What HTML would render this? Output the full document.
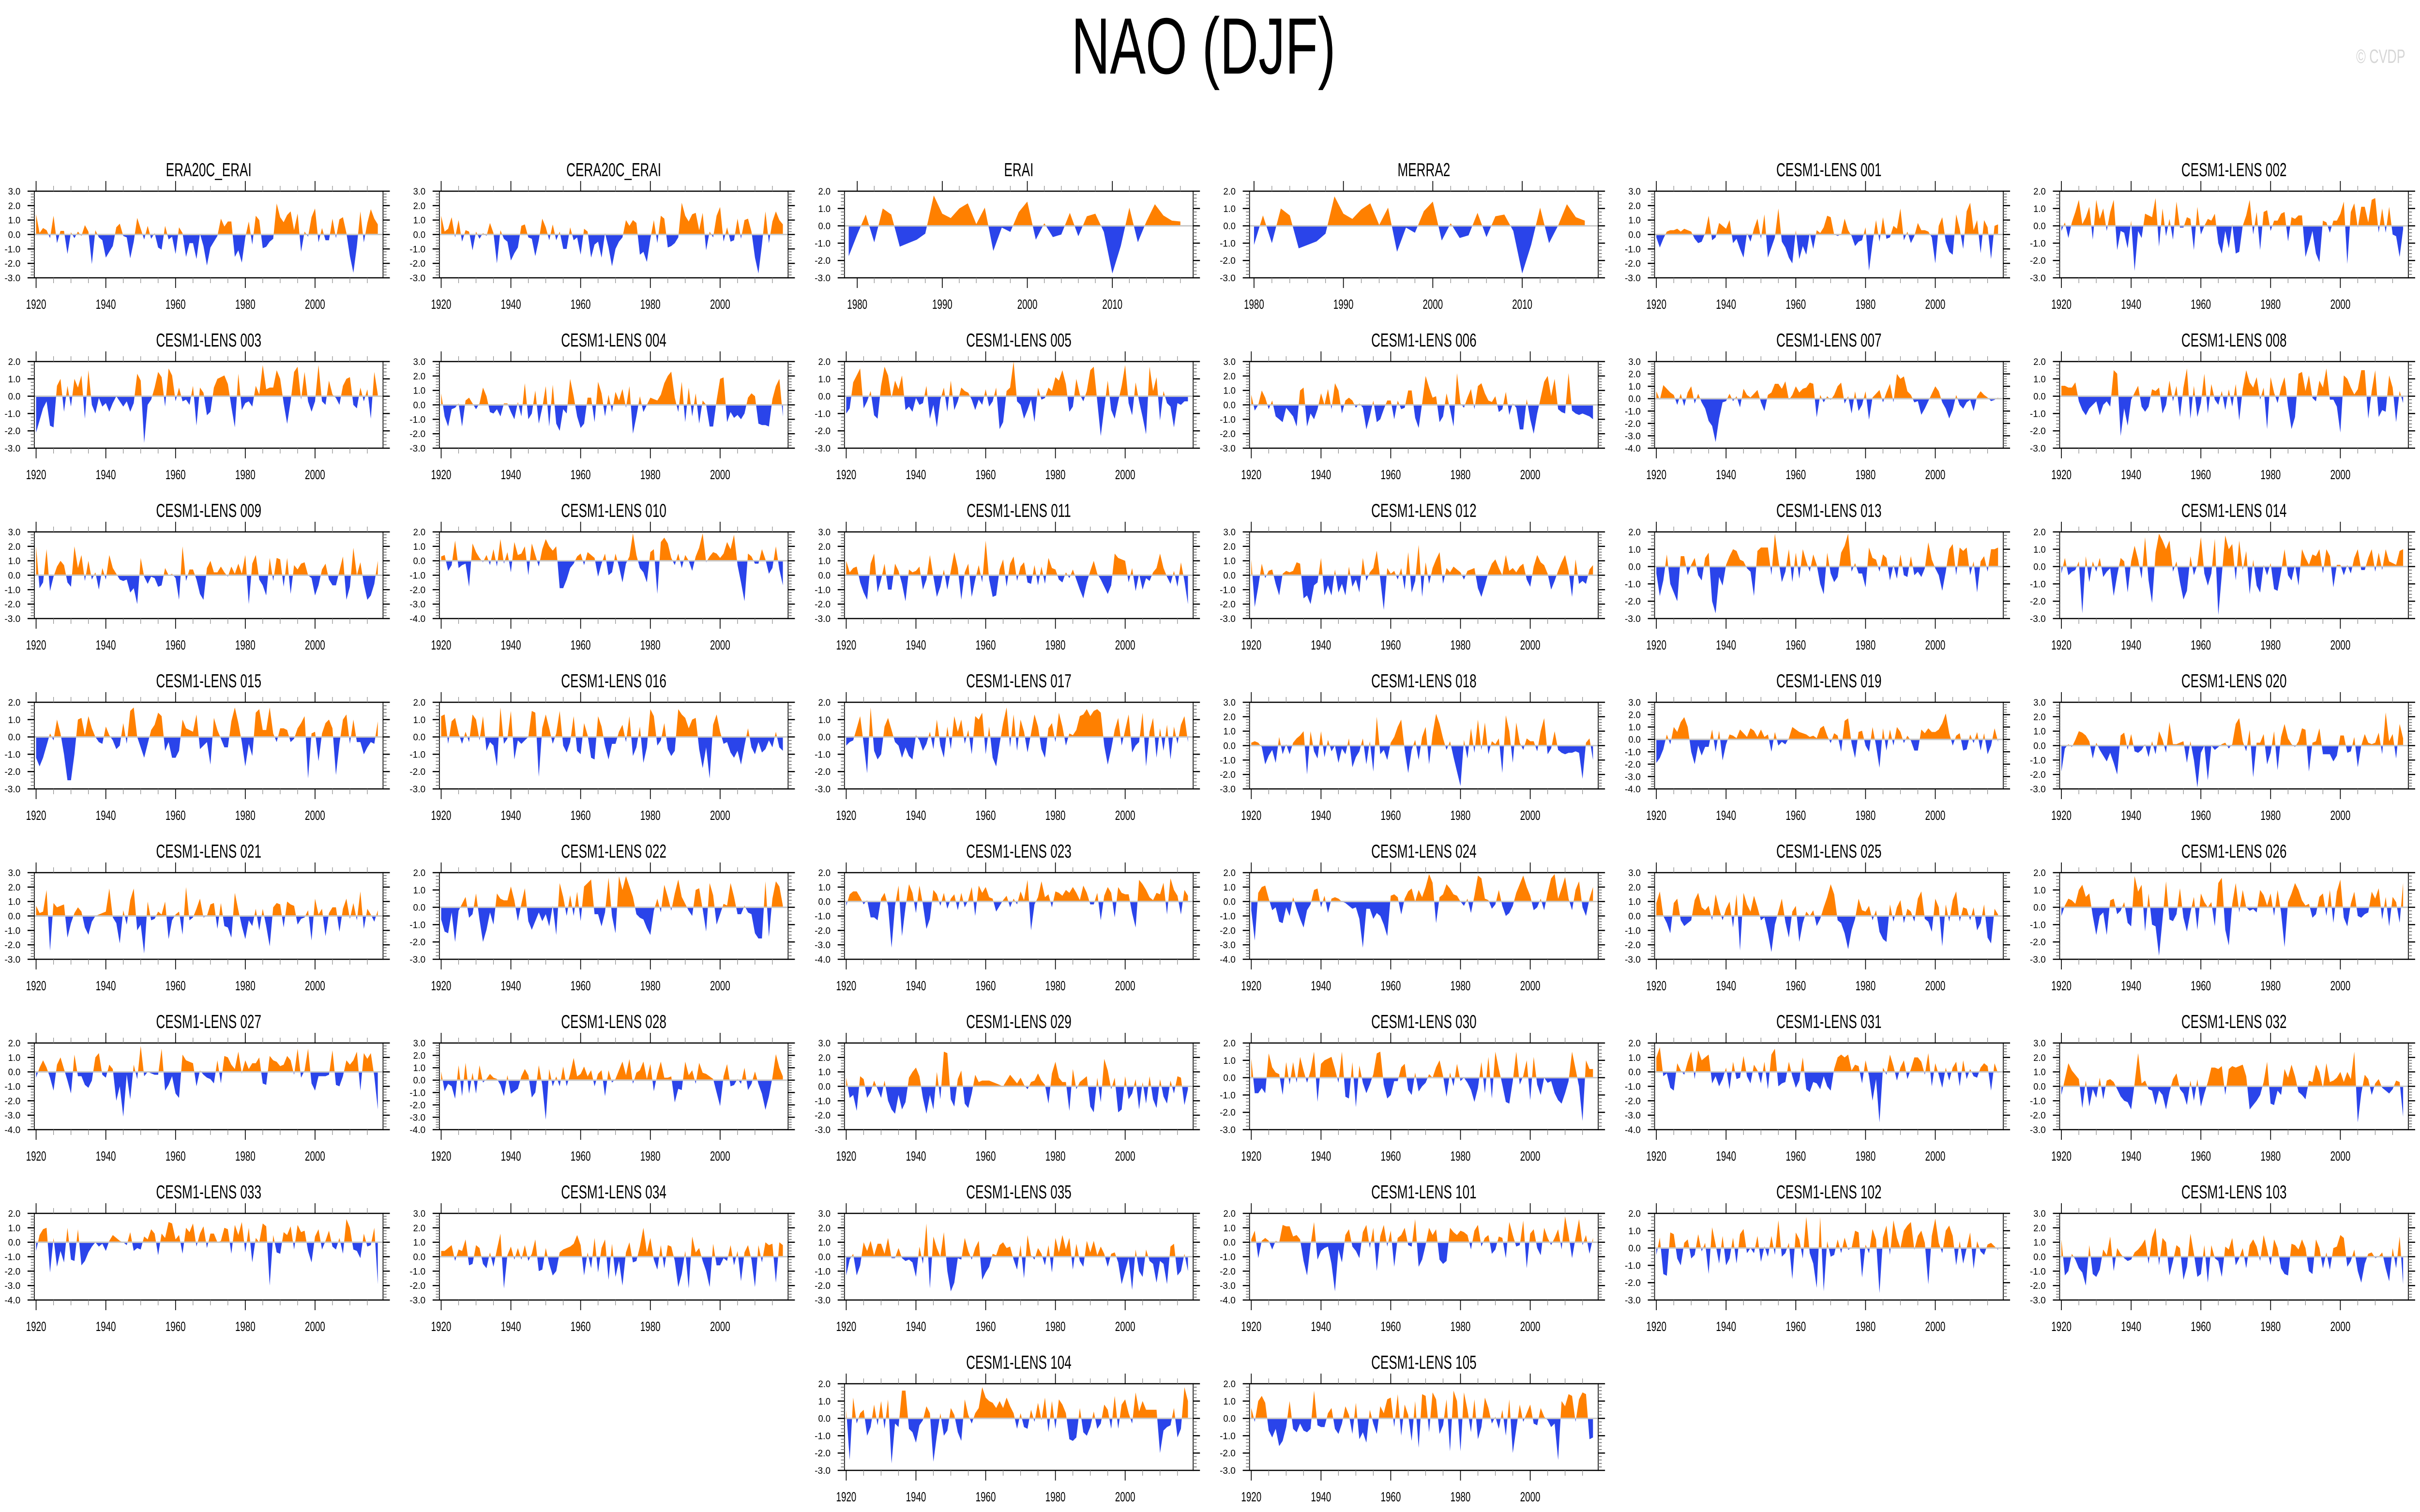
<!DOCTYPE html>
<html><head><meta charset="utf-8"><title>NAO (DJF)</title>
<style>
html,body{margin:0;padding:0;background:#fff;overflow:hidden;width:100%;height:100%;}
svg{display:block;width:100vw;height:100vh;}
text{font-family:"Liberation Sans",Arial,sans-serif;}
</style></head>
<body>
<svg id="fig" xmlns="http://www.w3.org/2000/svg" viewBox="0 0 7468 3124" preserveAspectRatio="none">
<rect width="7468" height="3124" fill="#fff"/>
<text x="3714" y="152" font-size="165" text-anchor="middle" fill="#000">NAO (DJF)</text>
<text x="7271" y="130" font-size="40" fill="#d6d6d6">© CVDP</text>
<g id="panels"></g>
</svg>
<script>
const s_era20c = [1.4,0.1,0.45,0.3,-0.25,1.3,-0.6,0.25,0.25,-1.35, 0.15,-0.25,0.2,-0.1,0.65,0.2,-2.05,0.3,-0.2,-0.4, -1.6,-1.2,-0.8,0.5,0.75,-0.1,-0.2,-1.65,-0.5,1.15, 0.4,-0.35,0.6,-0.3,0.1,-0.9,-1.05,0.6,-0.35,-0.15, -1.35,0.5,0.1,-1.55,-0.6,-0.6,-1.7,0.05,-0.8,-2.15, -0.9,-0.5,-0.1,1.1,0.55,0.9,0.9,-1.55,-1.1,-1.95, -0.2,0.9,-0.7,1.3,1.0,-0.95,-0.85,-0.5,-0.3,2.15, 1.2,0.85,1.35,1.6,0.3,1.45,-1.2,0.2,-0.15,1.2, 1.8,-0.55,0.45,-0.4,-0.4,1.1,-0.25,1.05,1.2,0.1, -1.5,-2.65,-0.8,1.6,-0.55,0.8,1.75,1.1,0.7];
const s_cera20c = [1.3,0.2,0.4,1.2,-0.2,1.0,-0.5,0.3,0.2,-1.1, 0.2,-0.3,0.1,-0.1,0.8,0.1,-2.0,0.3,-0.3,-0.5, -1.8,-1.3,-0.9,0.6,0.7,-0.2,-0.3,-1.5,-0.4,1.1, 0.5,-0.4,0.7,-0.4,0.2,-1.0,-1.0,0.5,-0.4,-0.2, -1.4,0.4,0.2,-1.6,-0.7,-0.5,-1.6,0.1,-0.9,-2.2, -1.0,-0.5,-0.2,1.0,0.6,1.0,0.8,-1.4,-1.2,-1.9, -0.3,1.0,-0.6,1.3,1.1,-0.9,-0.8,-0.6,-0.2,2.2, 1.3,0.9,1.4,1.5,0.3,1.5,-1.1,0.2,-0.2,1.3, 1.9,-0.5,0.5,-0.5,-0.4,1.1,-0.3,1.0,1.1,0.2, -1.6,-2.7,-0.7,1.6,-0.6,0.9,1.6,1.0,0.7];
const s_erai = [-1.75,-0.5,0.65,-0.95,1.0,0.65,-1.2,-1.0,-0.8,-0.45, 1.75,0.7,0.45,1.0,1.3,0.1,1.05,-1.45,-0.1,-0.35, 0.8,1.4,-0.8,0.15,-0.65,-0.5,0.75,-0.6,0.55,0.7, -0.35,-2.75,-1.15,1.05,-0.95,0.25,1.25,0.6,0.3,0.25];
const s_merra2 = [-1.1,0.6,-1.0,1.0,0.6,-1.3,-1.1,-0.9,-0.45,1.7, 0.7,0.4,0.95,1.3,0.05,1.05,-1.5,-0.1,-0.4,0.85, 1.4,-0.85,0.15,-0.7,-0.55,0.75,-0.65,0.55,0.65,-0.3, -2.75,-1.1,1.05,-1.0,0.0,1.25,0.5,0.3];
const s_001 = [-0.2,-0.9,-0.3,0.2,0.3,0.3,0.4,0.2,0.4,0.3, 0.2,-0.3,-0.6,-0.5,0.1,1.3,-0.4,-0.2,0.8,0.6, 0.4,1.0,-0.6,-0.3,-1.0,-1.6,0.1,-0.5,0.4,1.1, -0.3,1.4,-1.6,-0.9,-0.2,1.8,-0.5,-0.9,-1.6,-2.0, 0.3,-1.7,-0.8,-1.4,0.1,-1.0,0.3,0.1,0.5,1.3, 1.2,0.0,-0.1,0.0,1.1,0.3,-0.1,-0.8,-0.5,-0.4, 0.5,-2.5,-0.6,1.0,-0.5,1.2,-0.3,-0.2,0.6,0.4, 1.8,-0.4,0.2,-0.6,-0.1,0.8,0.3,0.3,0.2,-0.2, -2.0,0.6,1.2,-0.5,-1.2,-1.4,1.4,0.4,-1.0,1.6, 2.2,0.3,1.0,-1.3,1.0,0.5,-1.7,0.6,0.7];
const s_002 = [-0.3,0.2,-0.7,0.2,0.8,1.5,0.1,0.5,1.1,-0.8, 1.5,0.4,1.0,-0.3,0.8,1.5,-1.4,-0.3,-0.4,-1.3, 0.3,-2.6,-0.3,-0.7,0.7,0.6,0.5,1.6,-1.2,1.0, -0.6,0.4,-0.8,1.4,-0.1,-0.1,0.5,0.4,-1.4,1.1, -0.5,0.0,0.4,0.3,0.7,-1.0,-1.6,-0.3,-1.3,0.1, -1.6,-1.5,0.0,0.6,1.5,-0.5,0.8,-1.4,0.8,0.9, -0.3,0.3,0.3,0.7,0.8,-0.9,0.5,0.4,0.6,0.6, -1.8,-1.1,-0.3,-1.6,-2.1,0.3,0.2,-0.4,0.3,0.3, 0.7,1.4,-2.2,0.8,1.3,-0.1,1.1,1.1,0.2,1.5, 1.6,-0.4,1.0,-0.4,1.1,-0.5,-0.6,-1.8,-0.2];
const s_003 = [-2.1,-1.4,-0.7,-0.3,-1.7,-1.8,0.6,1.0,-0.9,0.6, -0.6,1.0,0.5,1.2,-1.3,1.5,-0.5,-1.0,-0.1,-0.6, -0.4,-0.9,-0.4,0.0,-0.3,-0.6,-0.3,-0.9,-0.4,1.3, 0.9,-2.7,-0.5,-0.2,0.5,1.4,1.1,-0.6,1.6,1.2, -0.3,0.5,-0.3,-0.2,-0.5,0.6,-1.7,0.5,0.2,-1.1, -0.9,0.5,1.0,1.1,1.2,0.7,-0.6,-1.8,1.3,-0.8, -0.4,-0.3,-0.6,0.6,0.1,1.8,0.4,0.5,0.5,1.5, 1.0,-0.4,-1.6,-0.3,1.4,1.7,-0.2,1.4,-0.3,-0.9, -0.3,1.8,-0.3,-0.5,0.9,0.1,-0.1,-0.5,0.6,1.0, 1.1,-0.5,-0.7,0.5,-0.3,0.4,-1.3,1.4,0.1];
const s_004 = [0.8,-0.8,-1.5,-0.3,-0.2,0.1,-1.5,0.3,0.5,0.1, -0.3,0.1,1.2,0.6,-0.5,-0.6,-0.3,-0.8,0.1,0.1, -0.5,-1.0,0.2,-0.8,1.5,-1.0,-0.6,1.0,-1.3,-0.2, 1.3,-1.5,1.4,-1.3,-1.8,-0.3,-0.6,1.8,0.6,-0.8, -1.6,-1.3,0.5,0.5,-1.2,1.6,0.8,-0.8,0.7,-0.5, 0.9,0.3,1.1,-0.2,1.3,-2.0,-0.8,0.6,-0.5,0.0, 0.5,0.4,0.3,0.7,1.5,2.0,2.3,0.5,-0.5,1.6, -1.2,1.2,-0.8,0.8,-1.3,0.3,0.0,-1.5,-1.5,0.3, 1.8,1.9,-1.2,-0.5,-0.9,-0.7,-1.0,-0.6,0.5,0.8, 0.6,-1.3,-1.4,-1.4,-1.5,0.4,1.3,1.8,-0.8];
const s_005 = [-1.0,-0.7,0.8,1.2,1.6,-0.7,-0.3,0.3,-1.1,-1.3, 0.6,1.7,1.2,-0.1,0.9,0.4,1.2,-0.8,-0.6,-0.9, -0.1,-0.5,-0.4,0.6,-1.3,-0.5,-1.8,-0.2,0.5,-0.9, 0.9,-0.8,-0.3,0.5,0.3,0.2,-0.2,-0.8,-0.2,-0.5, 0.4,-0.6,-0.3,0.5,-1.9,-1.5,0.3,0.5,2.0,-0.3, -0.5,-1.3,-0.8,-0.2,-1.5,0.5,-0.2,-0.1,0.5,0.3, 1.1,0.9,1.5,0.7,-0.9,-0.6,1.0,0.1,-0.3,0.3, 1.5,1.7,-0.3,-2.3,-0.7,0.9,-0.8,-1.3,-0.3,0.6, 1.8,-0.4,-1.1,0.8,-0.3,-1.2,-2.2,1.7,0.3,1.1, -1.4,0.3,-0.4,-0.6,-1.8,-0.4,-0.5,-0.3,-0.3];
const s_006 = [0.7,-0.4,0.0,1.0,0.5,-0.3,0.3,-0.8,-1.0,-1.2, -0.2,-0.5,-0.8,-1.5,1.0,1.2,-1.5,-0.6,-1.0,-0.3, 0.8,0.0,1.1,-0.3,1.5,1.0,-0.6,0.3,0.5,0.3, -0.2,0.1,-0.2,-1.7,-0.8,0.3,-1.2,-1.0,-0.3,0.3, 0.3,-1.0,0.3,-0.3,-0.2,1.0,1.0,-0.9,-1.6,0.1, 2.0,1.2,0.5,0.6,-1.2,-0.8,0.8,-0.3,-1.5,2.2, 0.1,-0.2,0.5,1.1,-0.3,1.3,1.5,0.8,0.3,0.2, 0.6,-0.5,-0.3,0.9,-0.7,0.1,-0.2,-1.7,-1.7,0.4, -1.0,-2.0,-0.6,0.5,1.6,2.0,0.6,1.8,-0.3,-0.5, -0.6,2.2,-0.4,-0.6,-0.7,-0.6,-0.7,-0.8,-1.0];
const s_007 = [0.6,-0.1,1.1,0.8,0.5,0.3,-0.5,0.4,-0.6,0.5, 1.0,-0.4,0.4,-0.3,-0.8,-1.8,-2.2,-3.5,-1.6,-0.3, -0.2,0.4,-0.2,0.2,-0.7,0.8,0.3,0.1,0.4,0.7, -0.3,-1.0,0.3,0.5,1.2,1.2,0.8,1.4,-0.1,0.3, 1.0,0.5,0.8,0.9,1.3,1.2,-1.5,0.3,-0.3,0.2, -0.1,0.3,1.0,1.3,-0.4,0.2,-1.2,0.6,-1.0,-0.5, 0.6,-1.7,0.1,0.4,0.7,-0.3,0.5,1.2,-0.3,2.0, 1.6,1.8,0.6,0.3,-0.3,-0.2,-1.3,-0.8,-0.2,0.4, 1.0,0.6,-0.3,-0.8,-1.6,-0.9,0.3,-0.5,-0.8,-0.3, -0.1,-1.0,0.2,0.6,0.3,0.1,-0.2,-0.1,0.1];
const s_008 = [0.6,0.6,0.5,0.5,0.8,-0.3,-0.8,-1.1,-0.7,-0.5, -0.3,-1.1,-0.5,-0.3,-0.6,1.5,1.3,-2.3,-0.7,-1.7, -0.2,0.2,0.6,-0.6,-0.9,-0.6,0.4,0.3,0.5,-1.0, -0.5,0.9,-0.3,0.6,-1.2,0.5,1.6,-1.3,0.6,-1.2, -0.4,1.3,-1.0,0.7,-0.2,-0.5,0.3,-0.8,0.4,-0.6, 0.7,-1.4,0.4,1.5,0.8,0.5,1.1,-0.2,0.5,-1.9, 1.1,0.2,-0.4,0.5,1.1,-0.6,-1.9,-1.2,1.3,1.4, 0.3,1.2,-0.1,-0.3,0.9,0.5,1.6,-0.2,-0.2,-0.6, -2.1,1.2,1.0,0.5,0.1,0.4,1.5,1.5,-1.3,0.3, 1.5,-1.2,-0.8,-0.9,1.2,0.5,-1.5,0.3,-0.4];
const s_009 = [2.0,-0.9,-0.5,1.8,-1.1,-0.1,0.6,1.0,0.7,-0.5, -0.8,2.0,0.5,1.4,-0.4,1.0,-0.3,0.2,-1.0,0.5, -0.3,1.4,0.5,0.1,-0.3,-0.4,-0.3,-1.2,-0.9,-2.0, 1.2,-0.1,-0.6,-0.1,-0.2,-0.8,-0.7,0.5,0.0,0.1, -0.2,-1.7,2.0,-0.4,0.4,0.4,-0.3,-1.3,-1.7,0.5, 1.0,0.2,0.2,0.6,0.2,-0.1,0.6,0.1,0.8,0.1, 1.4,-2.0,0.8,1.4,-0.3,-0.7,-1.4,1.2,-0.4,1.2, 1.1,-0.8,1.2,-1.3,0.7,0.4,0.8,0.9,0.0,-0.2, -1.4,-0.7,0.4,0.8,-0.3,-0.7,-0.7,0.3,1.3,-1.7, -0.8,1.9,0.0,0.9,-0.6,-1.7,-1.4,-0.6,1.0];
const s_010 = [0.3,0.4,-0.7,-0.3,1.4,-0.5,-0.3,-0.2,-1.8,1.2, 0.6,0.2,-0.1,0.4,-0.3,0.8,-0.4,1.5,-0.2,0.6, -0.8,1.3,0.4,0.5,1.0,-1.0,1.2,0.4,-0.4,0.8, 1.5,1.0,0.7,1.0,-1.9,-1.9,-1.3,-0.5,-0.2,0.3, 0.5,-0.3,0.6,0.4,0.2,-1.1,-0.2,0.5,-1.0,-0.8, 0.5,-0.4,-1.5,-0.2,0.3,1.9,0.4,-0.5,-0.8,-1.5, 0.6,0.8,-2.3,1.3,1.6,1.2,0.2,-0.3,0.5,-0.5, 0.4,0.0,-0.7,0.3,0.9,1.9,-0.1,0.3,0.6,0.5, 0.2,0.5,1.3,0.8,1.8,-0.3,-1.5,-2.8,0.5,0.3, -0.2,-0.2,0.8,0.1,-0.9,-0.5,1.0,-0.6,-1.7];
const s_011 = [1.0,0.2,0.5,0.6,-0.5,-1.2,-1.7,0.8,1.5,-1.2, -0.3,0.8,-1.0,-1.0,0.8,0.3,-0.6,-1.8,0.4,0.2, 0.3,0.6,-1.0,-0.3,1.4,-0.1,-1.5,-0.8,0.4,-1.0, 0.3,1.6,0.5,-1.7,0.2,0.8,-1.5,-0.3,0.7,-0.5, 2.4,-0.3,-1.5,-1.4,0.4,1.1,-0.8,0.8,1.3,-0.4, 0.6,0.9,-0.5,-0.6,0.7,-0.7,0.6,-0.6,1.2,0.5, 0.4,-0.3,-0.5,0.2,-0.2,0.4,-0.3,-1.0,-1.6,-0.5, 0.3,1.0,0.1,-0.3,-0.8,-1.3,-0.7,1.5,1.2,1.1, 1.0,-0.5,0.5,-1.1,0.1,-1.0,-0.2,-0.4,0.2,0.5, 1.5,0.5,-0.1,-0.6,0.3,-0.8,0.9,-0.4,-2.0];
const s_012 = [1.1,-2.2,-0.8,0.8,-0.2,0.3,0.4,-0.6,-1.4,0.1, 0.3,0.2,0.3,0.9,0.8,-1.6,-1.4,-2.0,-0.7,-0.5, 1.2,-1.4,-0.7,-1.4,0.4,-1.2,-0.6,-1.4,0.6,-0.8, -0.3,-1.2,1.2,-0.4,0.2,0.5,1.7,-0.3,-2.4,0.5, 0.1,0.3,-0.3,0.5,-1.0,1.6,-1.2,-0.4,2.1,-1.5, 0.9,-0.6,0.5,1.1,1.6,-0.6,0.5,0.2,0.6,0.4, 0.2,-0.3,0.3,0.4,0.5,-0.9,-1.5,-0.7,0.2,0.8, 1.1,0.5,0.0,1.4,0.3,0.5,0.2,0.6,0.8,-0.3, -0.8,0.6,1.4,0.9,0.7,0.1,-1.0,-0.4,0.3,0.9, 1.4,0.3,-1.5,1.1,-0.6,-0.4,-0.6,0.4,0.7];
const s_013 = [-0.4,-1.7,-0.8,0.7,-1.0,-1.5,-2.0,0.6,0.6,-0.5, 0.1,0.5,-0.5,-0.8,0.5,0.8,-2.0,-2.7,-0.6,-1.1, 0.1,0.6,1.0,0.9,0.4,0.3,-0.1,-0.3,-1.7,0.9, 1.1,1.1,1.1,-0.5,1.9,0.4,-0.9,-0.3,1.0,-0.9, 0.8,-0.7,1.0,0.3,-0.3,0.7,0.1,-1.0,-1.6,0.8, -0.4,-0.9,-0.6,0.8,1.2,1.9,-0.3,0.2,-0.4,-0.4, -1.2,1.1,0.5,0.4,-0.3,0.7,0.5,-0.8,0.1,-0.7, 0.7,-0.5,-0.6,0.6,-0.5,-0.3,-0.6,-0.1,1.4,0.4, -0.1,-0.5,-1.4,-0.3,1.0,1.3,-0.5,1.1,0.9,1.1, -0.5,0.3,-1.5,0.3,0.6,-0.3,1.0,1.0,1.1];
const s_014 = [-0.4,0.5,-0.5,-0.3,-0.2,0.3,-2.7,0.6,-0.9,0.3, -0.3,0.5,-0.6,-0.3,-0.1,-1.7,-0.5,0.5,0.3,-1.5, 0.3,1.2,0.4,-0.7,1.7,-0.8,-2.1,0.8,1.9,1.5, 1.0,1.5,-0.3,0.3,-0.9,-1.9,-1.4,0.6,-0.5,0.1, 1.7,-0.4,-1.1,-0.4,1.6,-2.8,-0.5,1.8,1.0,1.3, -0.8,1.5,-0.2,0.9,-1.6,0.4,-1.1,-1.5,0.1,-0.5, 0.2,-1.3,-1.4,-0.3,1.0,-0.5,-0.8,0.1,-1.1,1.0, 0.5,0.1,0.7,0.6,1.0,-0.4,1.0,0.6,-1.2,0.1, 0.1,-0.5,0.1,-0.4,0.5,1.0,-0.2,-0.2,0.5,1.0, -0.3,0.8,-0.2,1.0,0.3,0.2,0.1,0.9,1.0];
const s_015 = [-1.2,-1.7,-1.2,-0.5,0.2,-0.2,1.0,0.2,-1.0,-2.5, -2.5,-1.0,1.0,1.1,0.1,1.2,0.5,0.0,-0.3,-0.4, 0.6,0.1,-0.2,-0.7,-0.5,0.8,-0.4,1.5,1.7,0.0, -0.6,-1.2,-0.4,0.4,0.7,1.4,1.2,-0.8,-0.3,-1.2, -1.2,-0.8,1.0,0.5,0.4,0.3,1.3,-0.7,-0.5,-0.3, -1.6,1.1,0.4,-0.1,-0.6,-0.6,0.9,1.7,0.8,-0.3, -1.7,-0.4,-1.1,1.4,1.6,0.4,0.4,1.7,0.2,-0.3, 0.5,0.5,0.4,-0.3,-0.1,0.5,0.8,1.2,-2.4,0.2, 0.3,-1.4,0.2,0.8,1.0,0.5,-2.2,-0.4,1.0,1.3, -0.4,1.0,-0.3,-0.3,-1.0,-0.6,-0.3,-0.4,0.9];
const s_016 = [1.2,1.3,-0.4,0.9,1.1,0.2,-0.4,0.3,-0.3,1.3, 1.0,-0.2,1.2,-0.8,-0.3,-0.5,-1.7,1.7,-0.4,-0.1, 1.5,-1.3,-0.2,-0.4,-0.2,0.0,1.5,1.4,-2.3,0.5, 1.3,0.5,-0.4,0.2,1.5,-0.5,-0.9,-0.3,1.2,-0.8, -1.0,0.8,0.1,-1.2,-1.3,1.2,0.6,-0.5,-1.3,-0.4, -0.4,0.3,0.7,-0.3,1.2,-1.1,-0.6,0.6,-1.5,-0.6, 1.6,1.2,-0.5,-0.2,0.8,-0.7,-1.1,-0.8,1.6,1.3, 1.1,0.5,1.0,1.1,-0.7,-1.8,-0.6,-2.4,0.7,1.3, 0.3,-0.4,-0.3,-0.9,-1.2,-0.8,-1.6,-0.5,0.5,-0.6, -1.0,-0.3,-0.9,-0.7,-0.2,-0.6,0.3,-0.6,-0.8];
const s_017 = [-0.5,-0.3,-0.2,0.5,1.2,-0.4,-2.1,1.7,-0.8,-1.3, -1.0,0.6,1.1,0.4,-0.3,-0.5,-1.2,-0.6,-1.1,-1.3, 0.1,-0.2,-0.8,-0.4,0.3,-0.7,1.0,-0.5,-1.2,0.6, -0.7,1.2,0.3,1.0,-0.4,0.4,-1.0,1.2,1.0,1.4, -1.0,0.6,-1.2,-1.7,-0.4,0.8,1.7,-0.6,1.3,-0.8, 1.0,0.3,-0.9,0.2,1.3,0.6,-0.7,-1.2,0.5,0.8, -0.3,1.4,0.6,-0.5,0.2,0.1,0.4,1.2,1.3,1.6, 1.2,1.5,1.6,1.4,-0.5,-1.6,-0.7,0.4,1.1,-0.5, 0.4,1.3,-0.9,-0.5,-0.3,1.4,-1.7,0.3,1.1,-1.2, 0.5,-0.8,0.7,-1.3,0.6,-0.4,0.7,1.2,-0.3];
const s_018 = [0.2,0.3,0.2,-0.1,-1.3,-0.7,-0.3,-1.2,0.6,-0.6, 0.1,-0.6,0.2,0.5,0.7,1.0,-2.0,1.0,-0.4,-0.9, 1.0,-0.8,0.4,-0.4,0.0,-1.2,-0.2,-0.6,0.5,-1.5, -0.8,-0.4,0.5,-1.3,0.3,-1.8,2.0,-0.6,-0.3,-1.0, 0.2,0.6,1.3,1.8,-0.3,-1.9,-0.3,0.4,-1.0,0.6, 1.3,-1.3,0.8,2.2,1.5,0.5,-0.3,0.3,-0.8,-1.8, -2.8,0.4,-0.9,1.2,-0.5,1.8,-0.3,1.6,-0.6,0.3, 0.1,0.5,-1.9,2.1,1.0,-1.2,1.6,0.2,-0.3,0.5, 0.3,0.3,-0.4,1.0,1.9,-0.6,-0.2,1.0,-0.3,-0.5, -0.6,-0.5,-0.5,-0.4,-0.5,-2.3,0.2,0.5,-1.0];
const s_019 = [-1.9,-1.5,-0.8,0.4,-0.4,1.0,0.6,1.4,1.8,1.0, -1.0,-2.0,-0.5,-1.3,-0.6,-0.6,0.8,-1.0,0.7,-1.7, -0.4,0.4,0.3,0.1,0.8,0.5,0.2,0.9,0.7,0.2, 0.8,0.2,0.4,-1.0,0.6,-0.5,-0.2,-0.4,0.1,1.0, 0.8,0.6,0.5,0.4,0.2,0.3,0.1,0.9,1.1,0.3, -0.3,0.5,0.3,-1.0,1.5,1.7,-0.3,-1.5,0.6,0.7, -0.5,-1.0,1.0,-0.5,-2.3,0.9,-0.9,0.8,-0.5,1.0, 0.6,-0.3,0.3,-0.1,-0.9,-0.9,0.8,0.5,0.9,0.6, 0.6,0.8,1.3,2.1,0.5,-0.5,0.3,0.5,-0.9,-0.8, 0.4,-0.3,0.6,-0.9,0.5,-1.2,-0.5,0.9,-0.2];
const s_020 = [-1.8,-0.2,0.1,-0.1,0.4,1.0,0.9,0.7,0.3,-0.9, 0.2,-0.3,-0.7,-1.1,-0.5,-1.2,-2.0,0.7,0.9,-0.3, 0.8,-0.4,-0.5,-0.3,0.1,-0.8,0.3,-0.6,1.0,0.4, -0.5,1.6,0.1,0.1,0.2,0.3,-1.2,0.3,-1.0,-2.9, -0.5,0.0,-2.4,0.0,-0.3,-0.1,0.1,0.2,-0.2,0.1, 1.5,1.9,0.3,-0.4,1.1,-2.2,0.2,0.2,0.8,-1.3, -0.5,1.0,-1.7,0.6,1.5,0.5,0.1,-0.1,0.3,1.2, 1.1,-1.8,0.2,0.3,1.2,-0.6,-0.6,-0.6,-1.1,-0.7, 0.7,0.7,-0.5,-0.4,0.6,-1.5,0.0,0.8,0.2,0.1, 0.2,0.9,-0.6,2.3,0.3,0.8,-0.9,1.5,0.5];
const s_021 = [0.7,0.2,0.3,1.8,-2.4,0.9,0.6,0.7,0.8,-1.5, -0.5,0.2,0.6,0.3,-0.8,-1.3,-0.4,0.0,0.1,0.2, 0.3,1.9,-0.1,-0.5,-1.9,0.4,-0.6,1.1,1.9,-1.0, -0.6,-2.6,1.0,-0.3,-0.2,0.3,0.1,1.0,-1.6,-0.3, 0.1,0.3,-1.3,2.0,-0.3,-0.1,0.5,1.2,-0.1,0.0, 0.8,0.9,-0.9,0.9,-0.7,-0.8,-1.5,1.6,0.4,-0.7, -1.6,-0.3,-0.7,0.5,-1.0,0.5,-0.7,-2.1,0.6,0.9, 0.8,-0.8,1.0,0.8,0.7,-0.6,-0.2,-0.1,0.4,-1.7, 1.2,0.1,0.5,-1.4,0.2,0.6,0.6,-1.1,0.5,1.2, -0.2,0.9,-0.3,1.7,-0.9,0.5,0.1,-0.4,0.4];
const s_022 = [-0.7,-1.4,-1.5,-0.3,-2.0,-0.2,0.2,0.6,-0.6,-0.4, 0.8,-0.7,-2.0,-1.3,-0.3,-1.0,0.8,0.5,0.4,0.4, 1.2,0.4,-0.8,0.2,1.1,-0.8,-1.3,-0.8,-0.3,-0.8, -0.4,-1.1,0.1,-1.6,1.4,0.6,-0.5,0.7,-0.5,0.9, -0.8,1.2,1.4,1.6,-0.4,-0.4,-1.1,-0.3,1.7,-0.5, -1.5,1.8,1.0,1.8,1.2,0.6,-0.4,-0.6,-0.7,-1.2, -1.6,-0.2,0.5,-0.3,1.3,0.6,-0.2,0.8,1.6,0.6, 0.2,-0.2,-0.5,1.0,1.1,-0.1,-1.4,1.4,0.7,-1.0, -0.4,0.2,0.1,1.4,0.6,-0.4,-0.4,0.1,-0.3,-0.4, -1.5,-1.8,-1.8,1.5,-1.7,0.5,1.5,1.2,0.1];
const s_023 = [-0.3,0.5,0.7,0.7,0.3,-0.2,0.1,-1.1,-1.1,-1.3, 0.2,0.6,-0.3,-3.2,-0.3,1.1,-2.4,-0.4,1.2,0.6, -0.8,1.1,-0.2,-1.9,-1.2,0.8,0.5,-0.3,0.6,-0.5, 0.2,0.5,-0.6,0.6,-0.4,0.1,1.0,-1.0,1.1,0.6, 1.0,0.3,0.2,-0.7,-0.3,0.1,0.4,-0.4,0.2,-0.2, 0.7,0.1,1.5,-2.0,-0.2,0.3,1.4,0.3,0.5,-0.4, 0.7,0.6,0.4,0.8,0.6,1.0,0.6,0.1,1.1,0.6, -0.2,-0.2,0.6,-1.3,0.4,1.0,0.6,-1.1,1.0,0.6, 0.5,0.5,-0.8,-1.8,1.5,1.2,0.8,0.3,0.1,0.6, 0.5,1.3,-0.9,1.6,0.8,0.4,-0.9,0.8,0.4];
const s_024 = [-0.6,-2.7,0.6,1.0,1.1,0.2,-0.6,-0.4,-1.4,-1.5, -0.4,-1.0,0.3,-0.5,-1.2,-1.8,-0.6,-0.2,0.8,0.9, -0.4,0.4,-0.8,0.2,0.3,0.2,0.0,-0.1,-0.3,-0.5, -0.4,-1.2,-3.2,-0.5,-0.5,-1.2,-0.8,-1.0,-1.6,-2.4, 0.4,0.5,0.3,-0.9,0.2,0.7,0.9,0.0,0.8,0.3, 1.0,1.9,1.3,-1.5,0.3,0.5,1.2,0.9,0.5,0.4, 0.0,-0.3,0.2,-0.8,0.4,1.8,1.6,0.2,0.1,-0.5, -0.2,0.8,-0.3,-1.0,-0.8,-0.3,0.6,1.2,1.8,1.0, 0.4,-0.6,-0.4,0.2,-0.6,0.6,1.6,1.9,0.2,0.9, 1.7,0.2,-0.6,0.8,1.4,-0.4,-1.0,0.2,1.0];
const s_025 = [0.9,1.7,0.0,-0.5,-1.2,0.9,1.2,-0.3,-0.7,-0.5, -0.3,1.1,1.6,0.6,0.4,0.7,-0.3,1.5,0.5,-0.3, 0.5,1.0,-0.8,1.5,-2.4,1.6,0.8,0.3,1.4,0.6, -0.3,-0.1,-1.2,-2.5,-0.6,0.3,1.2,-0.4,-1.5,0.3, 0.7,-1.8,-0.5,0.3,0.0,0.4,-0.7,-0.2,0.6,1.3, 2.2,1.5,-0.3,-0.5,-1.2,-2.3,-1.0,-0.2,1.2,0.4, 0.3,0.7,-0.3,0.4,-1.1,-1.6,-1.8,0.8,-0.4,0.6, 1.1,-0.5,0.5,0.3,-0.4,1.2,1.7,-0.2,-0.4,-1.1, 1.2,0.6,-2.1,0.8,-0.4,1.1,1.7,-0.4,0.6,0.5, -0.3,0.6,-1.0,-0.5,0.8,-1.5,-1.9,0.5,0.1];
const s_026 = [-0.5,0.1,0.5,0.4,0.2,1.0,1.3,0.6,0.8,-0.5, -1.6,-0.5,-0.3,-1.6,0.4,0.5,-0.4,-0.2,0.3,-0.9, -1.1,1.8,0.9,1.3,-1.4,0.8,-1.0,-1.1,-2.8,-0.7, 1.5,-0.7,-0.8,-0.4,1.1,-0.6,-1.4,-0.3,0.6,-1.3, 0.8,0.3,0.0,0.3,-1.1,1.4,1.7,-1.3,-2.2,0.2, 1.4,-0.3,1.0,0.0,-0.2,-0.1,-0.3,1.0,0.7,0.1, 0.8,-0.5,1.0,-0.3,-2.3,0.3,0.8,1.4,1.0,0.4, 0.1,0.2,-0.6,-0.4,0.6,0.8,-0.5,1.0,-0.9,0.9, 1.6,-0.6,-1.1,0.2,0.9,-0.5,-0.6,-0.4,-0.3,0.9, 0.5,1.1,-0.7,0.6,-1.1,0.6,0.3,-0.9,1.4];
const s_027 = [-0.4,0.3,0.8,0.3,-0.4,-1.3,0.5,1.0,0.2,-0.6, -1.5,1.2,-0.3,-0.3,-0.9,-1.1,-0.6,1.0,1.3,-0.2, -0.4,0.5,0.2,-2.0,-1.0,-3.1,-0.2,-1.9,0.5,-0.5, 1.8,-0.3,0.0,-0.1,-0.2,-0.2,1.6,-1.3,-0.9,-0.3, -1.5,-1.8,1.2,0.8,0.7,0.6,-1.0,0.1,-0.2,-0.4, -0.5,-0.8,0.8,-0.8,1.1,1.0,0.5,0.2,1.4,-0.1, 0.8,0.2,0.6,0.6,1.0,-0.8,-0.9,1.1,0.8,0.7, 0.4,0.5,1.1,0.8,-0.2,1.6,-0.4,0.1,1.6,-0.8, -1.3,-0.3,-0.3,-0.3,-0.2,1.5,-0.9,-1.0,-0.3,0.8, 0.5,0.8,1.4,-1.3,1.3,0.9,1.3,-0.3,-2.6];
const s_028 = [0.7,-0.9,-0.3,-0.5,-1.5,1.2,-1.3,1.4,-1.1,0.6, -1.1,1.2,-0.2,0.1,0.5,0.2,0.1,-0.4,-1.3,0.4, -1.1,-0.9,-0.7,0.3,0.9,0.4,-1.4,-1.0,1.2,-0.4, -3.2,0.9,-0.5,0.3,-0.5,1.1,-0.5,0.5,1.8,0.3, 0.5,1.1,0.3,0.8,-0.5,0.5,0.8,-1.3,0.8,-0.2, 0.1,0.8,1.5,0.4,1.7,-0.3,0.6,0.8,1.5,0.1, 1.3,-0.9,0.5,1.5,0.2,0.2,0.3,-1.8,-0.7,-0.8, 1.5,0.4,0.8,-0.3,1.4,0.6,0.5,0.3,0.1,-1.0, -2.1,0.3,1.3,-0.5,-0.4,0.1,-0.3,1.0,-0.8,-0.3, 0.7,-0.3,-1.1,-2.4,-1.3,0.2,2.1,1.0,0.3];
const s_029 = [0.6,-0.8,-0.6,-1.7,0.7,0.5,-0.8,-0.4,0.4,-0.2, -0.8,0.4,-1.0,-1.6,-1.9,-0.6,-1.6,-1.1,0.6,1.0, 1.3,0.7,-0.8,-1.9,-0.6,-1.6,1.0,-0.9,2.4,2.3, -0.9,-1.4,0.5,1.1,-1.2,-1.5,-0.5,0.8,0.3,0.4, 0.4,0.4,0.3,0.2,0.1,0.0,0.4,0.8,0.5,0.2, 0.6,0.1,-0.2,0.3,0.4,0.9,0.4,0.1,-1.2,0.9, 1.7,0.6,0.3,0.3,-1.7,1.2,-0.2,0.3,0.5,0.7, -1.4,-1.8,0.6,-1.1,1.9,1.1,-0.2,0.6,-1.8,-1.6, 0.7,-0.9,-0.5,0.5,-1.6,0.3,-1.2,0.7,-0.9,-1.5, 0.5,-0.7,-1.2,0.4,-0.5,0.7,0.6,-1.3,-0.2];
const s_030 = [1.1,-0.9,-0.9,-0.6,-0.9,1.4,0.6,0.3,0.2,-1.0, 0.9,-0.4,0.9,-0.3,1.2,0.4,-0.3,0.4,1.5,-1.4, 0.8,1.0,1.1,1.2,0.5,-0.3,1.5,-1.1,-1.2,0.9, -1.7,0.7,-0.3,-0.9,-0.4,0.2,1.4,1.5,-0.4,-1.2, -1.0,-0.2,-0.2,0.6,0.8,-0.7,-1.0,0.3,-0.8,-0.5, -0.3,0.2,0.0,0.6,1.0,0.1,-1.1,0.3,-0.5,0.8, -0.2,0.0,-0.3,-0.7,-1.4,-0.6,0.9,-0.9,1.2,-1.2, 1.5,0.5,-0.4,-1.4,-1.5,-0.2,1.5,-0.4,0.1,1.0, -1.3,1.2,-0.4,-1.0,0.0,-0.3,-0.2,-0.9,-1.3,-1.5, -0.9,-0.2,1.5,0.5,-0.5,-2.5,1.0,0.5,0.5];
const s_031 = [1.0,1.7,-0.3,-0.1,-1.1,-1.3,0.6,0.1,-0.2,0.7, 1.4,-0.5,1.5,0.8,1.0,1.2,-0.8,-0.3,-1.0,-0.5, 0.3,-1.2,0.7,-0.5,-0.4,1.1,-0.3,-0.8,0.5,0.1, -0.8,0.7,-1.2,1.2,1.6,-1.0,-0.8,-0.7,0.7,-0.3, -1.1,-0.6,1.0,-1.2,-1.4,-0.7,-0.8,-1.2,-0.3,-1.0, -1.3,0.2,1.0,1.2,1.0,1.2,0.1,0.5,0.4,-0.8, 0.8,-0.3,-2.0,-0.5,-3.5,0.3,-0.2,1.2,0.4,-0.6, 0.3,0.8,-0.5,0.2,1.0,1.0,0.7,-0.2,1.3,-1.0, 0.6,-0.2,-1.1,0.3,-0.6,0.3,0.7,-1.0,0.8,-0.5, 0.2,-0.3,-0.4,0.3,0.6,0.4,-1.3,0.6,-0.1];
const s_032 = [-0.6,0.5,1.6,1.1,0.8,0.5,-1.5,0.4,-1.4,-0.2, -0.8,0.6,-0.9,0.4,0.5,0.3,-0.2,-0.7,-1.0,-1.1, -1.6,0.2,2.3,0.2,0.4,-0.2,-0.3,-1.3,-0.3,-0.6, -1.6,-0.4,0.5,0.9,-0.2,-0.5,-1.3,0.4,-1.0,0.5, -1.4,-0.5,0.3,1.3,1.3,1.2,1.4,-0.6,1.2,1.4, 1.3,1.4,1.5,0.7,-1.6,-1.3,-1.0,-0.6,0.3,1.7, -1.2,-1.3,-0.3,-0.6,1.2,0.6,1.5,0.7,-0.4,-0.6, -0.9,0.4,0.3,1.5,1.0,-0.1,1.6,0.3,0.4,0.6, 1.0,0.3,1.0,0.5,2.4,-2.5,-0.5,0.8,0.5,-0.6, 0.2,0.5,-0.1,-0.3,-0.5,-0.2,0.4,0.3,-2.1];
const s_033 = [-0.6,0.5,0.9,1.0,-2.1,0.3,-1.7,-0.6,-1.4,1.0, -1.2,-1.3,0.9,-1.6,-1.3,-0.7,-0.3,0.0,-0.3,-0.1, -0.6,0.1,0.5,0.3,0.1,0.0,-0.2,0.7,-0.6,-0.4, -0.5,0.4,0.2,0.9,0.6,-0.9,0.6,0.3,1.4,1.3, 0.2,0.5,-0.8,1.0,0.7,1.3,-0.3,0.6,1.1,-0.4, 0.6,0.6,0.0,0.1,1.0,0.9,-0.8,1.2,0.5,1.4, -0.7,1.0,-1.4,0.3,0.0,1.3,1.1,-3.0,0.5,-0.7, -0.8,0.7,0.5,1.1,-0.5,1.2,0.7,0.8,-0.6,-1.4, 0.4,0.9,-0.5,0.1,0.8,-0.3,-0.5,0.3,-0.8,1.6, 1.0,-0.5,-0.6,-1.1,0.6,-0.3,-0.2,1.0,-2.9];
const s_034 = [0.4,0.4,0.6,0.8,-0.3,0.5,0.4,1.2,-0.6,-0.5, 0.8,0.6,-0.5,-0.8,0.3,-0.7,0.5,1.6,-2.2,0.1, 0.7,-0.2,0.6,-0.2,0.8,-0.3,0.2,1.2,-1.0,-0.9, 0.6,-0.5,-1.3,-1.0,0.3,0.5,0.6,0.7,0.9,1.5, 0.8,-1.3,0.3,-0.8,1.3,-1.1,0.6,1.2,-1.6,0.9, -1.4,-0.3,-2.0,0.3,1.0,-0.4,-0.3,0.7,2.0,0.3, 1.3,-0.2,-0.9,0.8,-0.8,0.8,0.7,-0.3,-2.1,-1.2, 0.4,-2.2,1.4,0.3,0.6,-0.3,-1.0,-2.1,0.9,-0.6, -0.6,-0.1,-0.3,0.8,-0.6,0.4,-1.7,0.3,0.8,-0.2, -2.1,0.8,-0.4,1.0,0.8,0.9,-1.8,1.0,0.8];
const s_035 = [-1.3,-0.2,0.2,-1.3,-0.6,1.0,0.4,1.1,0.1,0.9, 0.9,0.2,1.3,-0.1,-0.1,0.6,-0.1,-0.3,-0.2,-0.4, -1.4,0.7,-0.5,2.3,-2.2,1.4,0.6,0.0,1.7,-1.0, -2.4,-1.8,-0.1,-0.2,1.3,0.4,-0.2,0.6,1.1,-1.6, -1.1,-0.7,0.2,0.1,0.8,1.0,0.6,0.7,-0.2,-0.9, 0.8,-1.5,1.5,0.1,-0.2,0.6,0.2,-0.6,0.8,-1.1, 1.3,0.3,1.5,0.5,1.3,-0.9,0.9,-0.3,-0.7,1.1, 0.3,1.1,0.1,0.7,0.2,-0.7,0.2,0.3,-0.4,-1.9, -1.0,-0.1,-2.3,0.5,-1.0,-1.4,0.5,-0.3,-0.5,-1.8, -0.3,-0.5,-1.9,0.7,0.9,-1.3,-1.0,0.2,-1.0];
const s_101 = [0.2,0.8,-1.1,0.1,0.3,0.1,-0.5,0.1,0.0,1.2, 1.1,1.1,0.4,0.5,0.2,-1.3,-2.3,-0.2,1.4,-1.2, -0.6,-0.4,-0.3,-1.5,-3.4,-0.5,-1.4,0.5,0.9,-0.3, -0.6,-1.1,0.7,1.2,-0.4,1.0,-2.0,0.4,1.2,-0.3, 0.8,-1.7,0.3,0.5,1.0,-0.2,-0.3,1.6,-1.7,-1.2, -0.2,1.0,0.5,0.9,-1.2,-1.5,-1.3,1.0,0.7,0.5, 0.8,0.7,0.5,-0.5,0.8,1.2,-0.3,0.3,0.5,-0.8, -0.5,0.4,0.3,-1.1,1.4,0.5,-0.3,-0.2,1.5,-1.8, 0.6,0.9,-0.4,-0.9,1.0,0.3,-0.2,0.3,0.9,-0.5, 1.8,0.5,-1.1,0.3,1.6,-0.2,0.5,-0.8,0.3];
const s_102 = [-0.4,0.6,-1.5,-1.6,0.9,0.8,-0.6,-1.0,0.3,0.5, -0.6,-0.4,0.8,-0.2,0.3,-1.5,1.2,0.2,-0.9,0.7, -1.0,-0.6,0.6,-0.9,0.8,1.1,-0.3,0.0,-0.3,0.7, -0.8,0.1,-0.5,0.7,-0.4,1.6,-0.5,-0.3,0.3,-1.8, 0.9,0.5,-0.6,1.8,-0.3,-0.9,-2.3,1.8,-2.5,0.4, -0.5,-0.4,0.5,-0.3,0.6,-0.1,0.0,1.0,0.9,-1.7, 0.2,-0.3,1.1,0.5,-2.6,0.6,1.3,-0.4,1.6,0.6, 0.0,1.0,1.3,1.5,-0.1,0.7,1.0,0.3,-2.1,0.7, 1.7,0.3,-0.3,1.0,1.3,0.7,-1.0,0.4,-0.9,0.0, 0.9,-1.2,0.4,-0.2,-0.4,0.2,0.3,0.1,-0.1];
const s_103 = [1.2,-1.3,-1.0,0.2,-0.2,-0.8,-1.1,-2.0,0.8,-1.2, -1.4,-0.9,0.5,0.1,1.4,-1.0,0.6,0.2,-0.1,-0.3, -0.2,0.3,0.5,0.8,1.2,-0.5,1.3,2.0,-0.6,1.3, 1.0,-1.3,-0.3,0.8,0.6,-1.6,-0.7,1.6,0.2,-1.4, -1.2,0.8,-1.8,0.8,-0.1,-0.3,-1.4,0.7,0.5,1.3, -0.6,-0.1,0.6,-0.8,0.8,1.2,0.7,-0.3,1.5,0.5, -0.6,1.2,0.6,-0.8,-1.2,-1.3,0.9,0.8,0.5,1.2, 0.6,-1.0,-1.2,1.2,0.6,-0.8,0.3,-0.9,0.6,0.7, 1.5,1.3,-0.7,-0.3,0.5,-1.0,-1.8,-0.5,0.2,0.3, -0.1,0.0,0.3,-0.8,-1.7,0.6,-0.8,1.4,-1.9];
const s_104 = [0.5,-2.4,1.2,-0.3,0.3,0.5,-1.0,-0.5,0.8,-0.4, 1.0,-0.6,1.1,-2.6,-0.3,-0.5,1.6,1.6,-0.6,-0.8, -1.4,-0.4,-0.1,0.7,0.3,-2.5,-1.0,0.3,-1.0,-0.7, 0.6,0.2,-0.8,-1.3,1.1,0.2,-0.3,0.3,0.6,1.8, 1.2,1.0,0.9,0.6,1.0,0.6,1.2,0.7,0.3,-0.6, 0.3,-0.5,-0.6,0.5,-0.2,0.9,-0.1,1.2,-0.8,1.0, -0.6,1.1,0.8,0.3,-1.2,-1.3,-1.1,0.6,-0.8,-1.0, -0.5,0.4,-0.6,-0.3,0.8,0.5,-0.6,1.3,-0.6,0.8, 1.1,0.3,-0.3,1.5,0.4,1.0,0.5,0.5,0.5,0.5, -2.0,-0.7,-0.5,-0.4,0.6,-1.1,-0.6,1.8,1.0];
const s_105 = [0.6,-0.2,1.0,1.3,0.9,-0.7,-1.1,-0.6,-1.6,-1.3, -0.5,1.0,-0.6,-0.8,-0.3,-0.7,-0.8,-0.6,1.6,-0.4, -0.5,-0.5,0.3,0.6,-0.6,-0.9,-0.3,0.7,0.2,-0.9, 0.9,-1.2,-0.8,-1.4,0.5,-0.3,-0.9,0.7,0.3,1.1, 1.2,-0.5,1.4,-1.0,0.8,0.2,-1.3,1.0,-1.7,1.4, 1.3,-0.8,1.5,1.1,-0.9,-0.4,1.1,-1.9,1.6,1.0, -1.9,1.5,0.5,-0.8,1.1,-1.2,-0.5,1.2,0.6,-0.3, 0.1,-0.6,0.5,-1.0,1.1,-2.0,-0.6,0.8,-0.2,0.3, 0.8,-0.3,-0.4,0.6,0.1,-0.1,-0.5,-0.3,-2.4,1.0, 0.7,1.4,1.3,-0.2,1.1,1.5,1.4,-1.2,-1.1];

const panelTitles = ["ERA20C_ERAI","CERA20C_ERAI","ERAI","MERRA2","CESM1-LENS 001","CESM1-LENS 002",
"CESM1-LENS 003","CESM1-LENS 004","CESM1-LENS 005","CESM1-LENS 006","CESM1-LENS 007","CESM1-LENS 008",
"CESM1-LENS 009","CESM1-LENS 010","CESM1-LENS 011","CESM1-LENS 012","CESM1-LENS 013","CESM1-LENS 014",
"CESM1-LENS 015","CESM1-LENS 016","CESM1-LENS 017","CESM1-LENS 018","CESM1-LENS 019","CESM1-LENS 020",
"CESM1-LENS 021","CESM1-LENS 022","CESM1-LENS 023","CESM1-LENS 024","CESM1-LENS 025","CESM1-LENS 026",
"CESM1-LENS 027","CESM1-LENS 028","CESM1-LENS 029","CESM1-LENS 030","CESM1-LENS 031","CESM1-LENS 032",
"CESM1-LENS 033","CESM1-LENS 034","CESM1-LENS 035","CESM1-LENS 101","CESM1-LENS 102","CESM1-LENS 103",
"CESM1-LENS 104","CESM1-LENS 105"];
const panelSeries = [s_era20c,s_cera20c,s_erai,s_merra2,s_001,s_002,s_003,s_004,s_005,s_006,s_007,s_008,
s_009,s_010,s_011,s_012,s_013,s_014,s_015,s_016,s_017,s_018,s_019,s_020,s_021,s_022,s_023,s_024,s_025,s_026,
s_027,s_028,s_029,s_030,s_031,s_032,s_033,s_034,s_035,s_101,s_102,s_103,s_104,s_105];
const panelStartYears = [1920,1920,1979,1980,1920,1920, 1920,1920,1920,1920,1920,1920, 1920,1920,1920,1920,1920,1920,
1920,1920,1920,1920,1920,1920, 1920,1920,1920,1920,1920,1920, 1920,1920,1920,1920,1920,1920, 1920,1920,1920,1920,1920,1920, 1920,1920];
const panelYMax = [3,3,2,2,3,2, 2,3,2,3,3,2, 3,2,3,3,2,2, 2,2,2,3,3,3, 3,2,2,2,3,2, 2,3,3,2,2,3, 2,3,3,2,2,3, 2,2];
const panelYMin = [-3,-3,-3,-3,-3,-3, -3,-3,-3,-3,-4,-3, -3,-4,-3,-3,-3,-3, -3,-3,-3,-3,-4,-3, -3,-3,-4,-4,-3,-3, -4,-4,-3,-3,-4,-3, -4,-3,-3,-4,-3,-3, -3,-3];

const NS = "http://www.w3.org/2000/svg";
const root = document.getElementById('panels');
const FW = 1076, FH = 179;
function mk(tag, attrs, parent){
  const e = document.createElementNS(NS, tag);
  for (const k in attrs) e.setAttribute(k, attrs[k]);
  parent.appendChild(e);
  return e;
}
function panelOrigin(i){
  if (i < 42) { return [106 + (i % 6) * 1250, 395 + Math.floor(i / 6) * 352]; }
  return [106 + (i - 42 + 2) * 1250, 395 + 7 * 352];
}

panelTitles.forEach(function(title, i){
  const vals = panelSeries[i];
  const start = panelStartYears[i];
  const ymax = panelYMax[i], ymin = panelYMin[i];
  const o = panelOrigin(i), L = o[0], T = o[1];
  const xmin = start - 0.5, xmax = start + vals.length + 0.5;
  const xs = function(yr){ return L + (yr - xmin) / (xmax - xmin) * FW; };
  const ys = function(v){ return T + (ymax - v) / (ymax - ymin) * FH; };
  const slug = title.toLowerCase().replace(/[^a-z0-9]+/g,'-');

  const g = mk('g', {}, root);
  
  

  const t = mk('text', {x: L + FW/2, y: T - 31, 'font-size': 39, 'text-anchor': 'middle', fill: '#000'}, g);
  
  
  t.textContent = title;

  const cidA = 'ca' + i, cidB = 'cb' + i;
  const z = ys(0);
  const cpA = mk('clipPath', {id: cidA}, g);
  mk('rect', {x: L, y: T, width: FW, height: z - T}, cpA);
  const cpB = mk('clipPath', {id: cidB}, g);
  mk('rect', {x: L, y: z, width: FW, height: T + FH - z}, cpB);

  let d = 'M' + xs(start).toFixed(1) + ',' + z.toFixed(1);
  vals.forEach(function(v, k){ d += 'L' + xs(start + k).toFixed(1) + ',' + ys(v).toFixed(1); });
  d += 'L' + xs(start + vals.length - 1).toFixed(1) + ',' + z.toFixed(1) + 'Z';
  const pa = mk('path', {d: d, fill: '#ff8000', 'clip-path': 'url(#' + cidA + ')'}, g);
  
  
  const pb = mk('path', {d: d, fill: '#2a44ea', 'clip-path': 'url(#' + cidB + ')'}, g);
  
  

  const zl = mk('line', {x1: L, x2: L + FW, y1: z, y2: z, stroke: '#c8c8c8', 'stroke-width': 3}, g);
  
  

  const fr = mk('rect', {x: L, y: T, width: FW, height: FH, fill: 'none', stroke: '#000', 'stroke-width': 2.5}, g);
  
  

  const yt = mk('g', {}, g);
  
  
  for (let m = Math.round(ymin * 5); m <= Math.round(ymax * 5); m++) {
    const v = m / 5, y = ys(v), major = (m % 5 === 0);
    const len = major ? 21 : 11, col = major ? '#000' : '#777', sw = major ? 2.5 : 1.8;
    mk('line', {x1: L - len, x2: L, y1: y, y2: y, stroke: col, 'stroke-width': sw}, yt);
    mk('line', {x1: L + FW, x2: L + FW + len, y1: y, y2: y, stroke: col, 'stroke-width': sw}, yt);
    if (major) {
      const lab = mk('text', {x: L - 43, y: y + 7, 'font-size': 19, 'text-anchor': 'end', fill: '#000',
        textLength: v < 0 ? 49 : 38, lengthAdjust: 'spacingAndGlyphs'}, yt);
      
      
      lab.textContent = v.toFixed(1);
    }
  }
  const xt = mk('g', {}, g);
  
  
  const short = vals.length < 60;
  const majStep = short ? 10 : 20, minStep = short ? 2 : 5;
  for (let yr = Math.ceil(xmin / minStep) * minStep; yr <= xmax; yr += minStep) {
    const x = xs(yr), major = (yr % majStep === 0);
    const len = major ? 21 : 11, col = major ? '#000' : '#888', sw = major ? 2.5 : 1.8;
    mk('line', {x1: x, x2: x, y1: T - len, y2: T, stroke: col, 'stroke-width': sw}, xt);
    mk('line', {x1: x, x2: x, y1: T + FH, y2: T + FH + len, stroke: col, 'stroke-width': sw}, xt);
    if (major) {
      const lab = mk('text', {x: x, y: T + 243, 'font-size': 28, 'text-anchor': 'middle', fill: '#000'}, xt);
      
      
      lab.textContent = String(yr);
    }
  }
});
</script>
</body></html>
